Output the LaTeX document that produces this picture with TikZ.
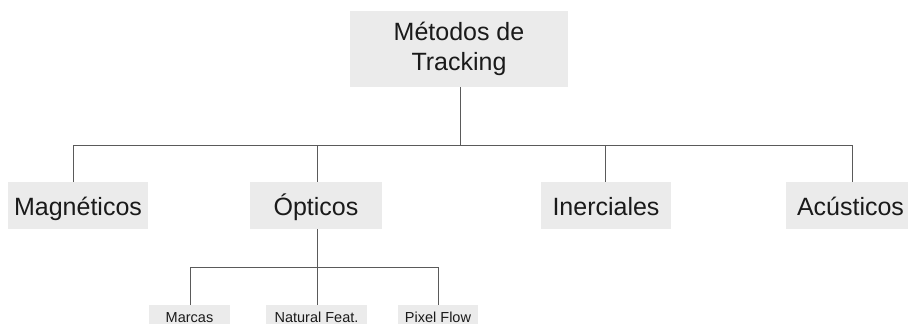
\documentclass[tikz,border=0pt]{standalone}
\usepackage{fontspec}
\setmainfont{Liberation Sans}
\definecolor{boxfill}{HTML}{EBEBEB}
\definecolor{wire}{HTML}{5A5A5A}
\definecolor{ink}{HTML}{1A1A1A}
\tikzset{
  x=1pt, y=-1pt,
  catbox/.style={fill=boxfill, inner sep=0pt, text=ink,
    font=\fontsize{25}{30}\selectfont, minimum height=47pt,
    text height=22pt, text depth=3pt},
  leafbox/.style={fill=boxfill, inner sep=0pt, text=ink,
    font=\fontsize{14.5}{17}\selectfont, minimum height=30pt,
    text height=10pt, text depth=5pt},
  wireline/.style={draw=wire, line width=1pt}
}
\begin{document}
\begin{tikzpicture}
\useasboundingbox (0,0) rectangle (908,324);

% root
\node[fill=boxfill, inner sep=0pt, text=ink, minimum width=218pt, minimum height=76pt,
      align=center, font=\fontsize{25}{30}\selectfont] (root) at (459,49)
      {Métodos de\\Tracking};

% first level
\node[catbox, minimum width=140pt] (mag) at (78,205.5) {Magnéticos};
\node[catbox, minimum width=132pt] (opt) at (316,205.5) {Ópticos};
\node[catbox, minimum width=130pt] (ine) at (606,205.5) {Inerciales};
\node[catbox, minimum width=129pt] (acu) at (850.5,205.5) {Acústicos};

% optical sub-methods
\node[leafbox, minimum width=81pt] (mar) at (189.5,320) {Marcas};
\node[leafbox, minimum width=101pt] (nat) at (316.5,320) {Natural Feat.};
\node[leafbox, minimum width=80pt] (pix) at (438,320) {Pixel Flow};

% bus lines
\coordinate (busA) at (0,145);
\coordinate (busB) at (0,267);

\draw[wireline] ([xshift=1pt]root.south) -- ([xshift=1pt]root.south |- busA);
\draw[wireline] ([xshift=-5pt]mag.north) -- ([xshift=-5pt]mag.north |- busA)
  -- ([xshift=1.5pt]acu.north |- busA) -- ([xshift=1.5pt]acu.north);
\draw[wireline] ([xshift=1pt]opt.north) -- ([xshift=1pt]opt.north |- busA);
\draw[wireline] ([xshift=-1pt]ine.north) -- ([xshift=-1pt]ine.north |- busA);

\draw[wireline] ([xshift=1pt]opt.south) -- ([xshift=1pt]opt.south |- busB);
\draw[wireline] ([xshift=0.5pt]mar.north) -- ([xshift=0.5pt]mar.north |- busB)
  -- (pix.north |- busB) -- (pix.north);
\draw[wireline] ([xshift=0.5pt]nat.north) -- ([xshift=0.5pt]nat.north |- busB);
\end{tikzpicture}
\end{document}
